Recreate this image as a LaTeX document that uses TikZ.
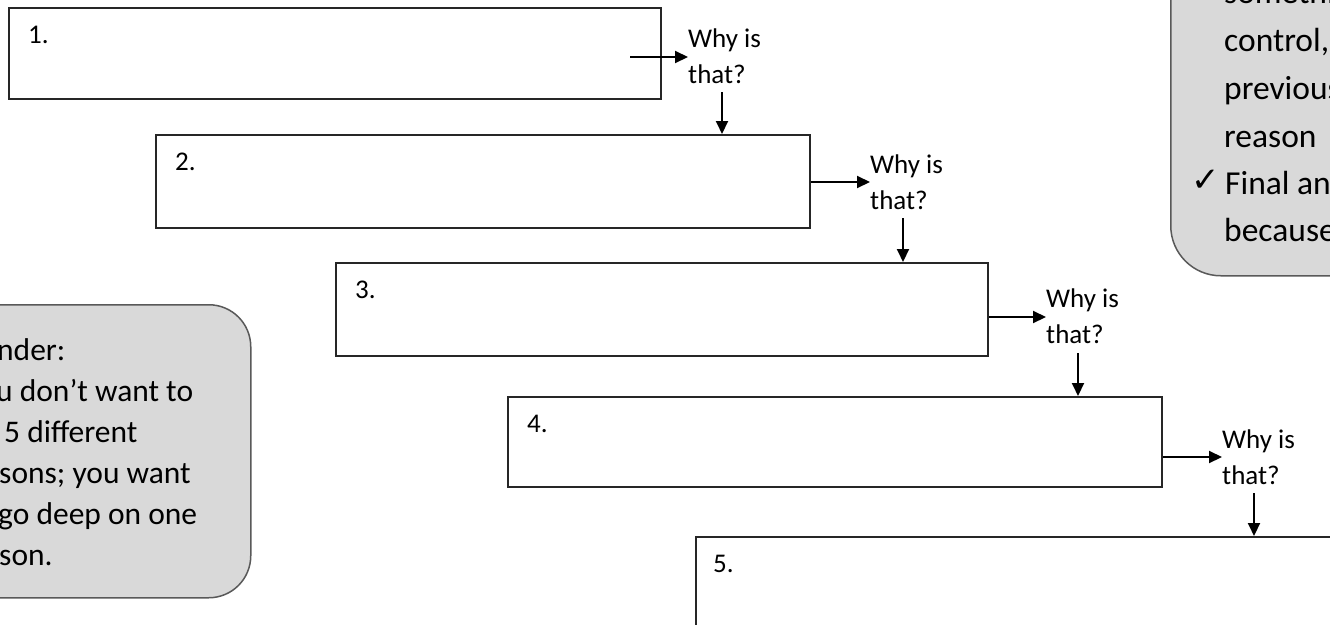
\documentclass[tikz,border=0pt]{standalone}
\usepackage{fontspec}
\setmainfont{Carlito}
\newfontfamily\symfont{DejaVu Sans}
\usetikzlibrary{arrows.meta}
\begin{document}
\begin{tikzpicture}[x=1pt,y=-1pt,
  stepbox/.style={draw=black!85, line width=2pt, anchor=north west, inner sep=0pt},
  num/.style={anchor=base west, inner sep=0pt, font=\fontsize{27}{32}\selectfont},
  why/.style={anchor=base west, inner sep=0pt, font=\fontsize{27}{32}\selectfont},
  arr/.style={line width=2pt, -{Triangle[length=13pt,width=12pt]}},
  callout/.style={fill=black!15, draw=black!65, line width=1.5pt, anchor=north west, inner sep=0pt},
  ltxt/.style={anchor=base west, inner sep=0pt, font=\fontsize{31.5}{36}\selectfont},
  rtxt/.style={anchor=base west, inner sep=0pt, font=\fontsize{33.5}{40}\selectfont}]
\useasboundingbox (0,0) rectangle (1330,624);
\clip (0,0) rectangle (1330,624);
\fill[white] (0,0) rectangle (1330,624);

% callouts
\node[callout, rounded corners=42pt, minimum width=550pt, minimum height=293pt] (c1) at (-300,304) {};
\node[callout, rounded corners=50pt, minimum width=420pt, minimum height=480pt] (c2) at (1170,-205) {};

\node[ltxt] (l1) at (-3,360) {nder:};
\node[ltxt] (l2) at (-4,401) {u don’t want to};
\node[ltxt] (l3) at (4,442) {5 different};
\node[ltxt] (l4) at (-1,483) {sons; you want};
\node[ltxt] (l5) at (-2,524) {go deep on one};
\node[ltxt] (l6) at (-1,565) {son.};

\node[rtxt] (r1) at (1224,3) {somethi};
\node[rtxt] (r2) at (1224,51) {control,};
\node[rtxt] (r3) at (1224,99) {previous};
\node[rtxt] (r4) at (1224,147) {reason};
\node[anchor=base west, inner sep=0pt, font=\symfont\fontsize{34}{40}\selectfont] (ck) at (1191,191) {✓};
\node[rtxt] (r5) at (1225,194) {Final an};
\node[rtxt] (r6) at (1224,241) {because};

% boxes
\node[stepbox, minimum width=652pt, minimum height=91pt] (b1) at (8,7) {};
\node[stepbox, minimum width=654pt, minimum height=93pt] (b2) at (155,134) {};
\node[stepbox, minimum width=652pt, minimum height=93pt] (b3) at (335,262) {};
\node[stepbox, minimum width=654pt, minimum height=90pt] (b4) at (507,396) {};
\node[stepbox, minimum width=660pt, minimum height=100pt] (b5) at (695,536) {};

\node[num] (n1) at (28,43) {1.};
\node[num] (n2) at (175,170) {2.};
\node[num] (n3) at (355,298) {3.};
\node[num] (n4) at (527,432) {4.};
\node[num] (n5) at (713,572) {5.};

% why labels
\node[why] (w1a) at (688,47) {Why is};
\node[why] (w1b) at (688,83) {that?};
\node[why] (w2a) at (870,173) {Why is};
\node[why] (w2b) at (870,209) {that?};
\node[why] (w3a) at (1046,307) {Why is};
\node[why] (w3b) at (1046,343) {that?};
\node[why] (w4a) at (1222,448) {Why is};
\node[why] (w4b) at (1222,484) {that?};

% connectors
\coordinate (s1) at (630,57);
\draw[arr] (s1) -- (s1 -| w1a.west);
\draw[arr] (b2.east |- 0,182) -- (w2a.west |- 0,182);
\draw[arr] (b3.east |- 0,317) -- (w3a.west |- 0,317);
\draw[arr] (b4.east |- 0,457) -- (w4a.west |- 0,457);

\coordinate (d1) at (722,92);
\coordinate (d2) at (903,218);
\coordinate (d3) at (1078,353);
\coordinate (d4) at (1254,493);
\draw[arr] (d1) -- (d1 |- b2.north);
\draw[arr] (d2) -- (d2 |- b3.north);
\draw[arr] (d3) -- (d3 |- b4.north);
\draw[arr] (d4) -- (d4 |- b5.north);
\end{tikzpicture}
\end{document}
